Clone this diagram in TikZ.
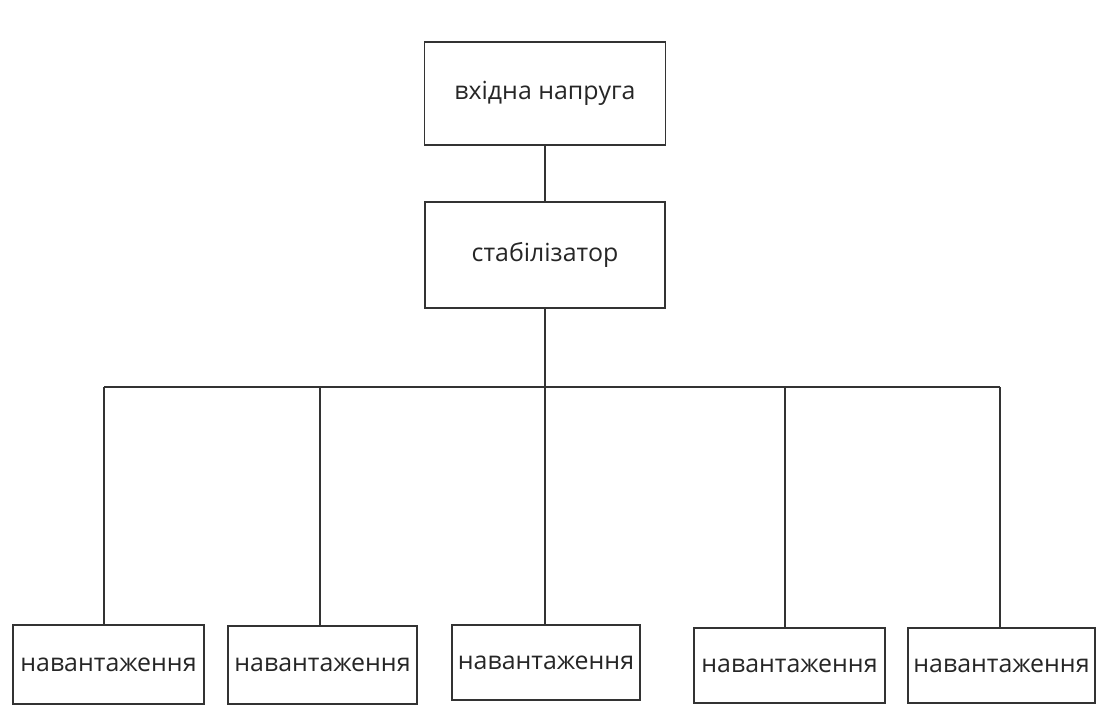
\documentclass[tikz,border=0pt]{standalone}
\usepackage{fontspec}
\setmainfont{Open Sans}
\begin{document}
\begin{tikzpicture}[x=1bp,y=-1bp,
  box/.style={draw=black!80,line width=1.9bp,inner sep=0pt,font=\fontsize{25}{28}\selectfont,text=black!85},
  wire/.style={draw=black!80,line width=1.9bp}]
\useasboundingbox[fill=white] (0,0) rectangle (1100,709);
\node[box,minimum width=241bp,minimum height=103bp] (top) at (545,93.5) {вхідна напруга};
\node[box,minimum width=240bp,minimum height=106bp] (stab) at (545,255) {\raisebox{6bp}{стабілізатор}};
\node[box,minimum width=191bp,minimum height=79bp] (b1) at (108.5,664.5) {навантаження};
\node[box,minimum width=189bp,minimum height=78bp] (b2) at (322.5,665) {\raisebox{-3bp}{навантаження}};
\node[box,minimum width=188bp,minimum height=75bp] (b3) at (546,662.5) {навантаження};
\node[box,minimum width=191bp,minimum height=75bp] (b4) at (789.5,665.5) {навантаження};
\node[box,minimum width=187bp,minimum height=75bp] (b5) at (1001.5,665.5) {навантаження};
\coordinate (j1) at (104,387);
\coordinate (j2) at (320,387);
\coordinate (j3) at (545,387);
\coordinate (j4) at (785,387);
\coordinate (j5) at (1000,387);
\draw[wire] (top.south) -- (stab.north);
\draw[wire] (stab.south) -- (j3);
\draw[wire] (j1) -- (j5);
\draw[wire] (j1) -- (j1 |- b1.north);
\draw[wire] (j2) -- (j2 |- b2.north);
\draw[wire] (j3) -- (j3 |- b3.north);
\draw[wire] (j4) -- (j4 |- b4.north);
\draw[wire] (j5) -- (j5 |- b5.north);
\end{tikzpicture}
\end{document}
